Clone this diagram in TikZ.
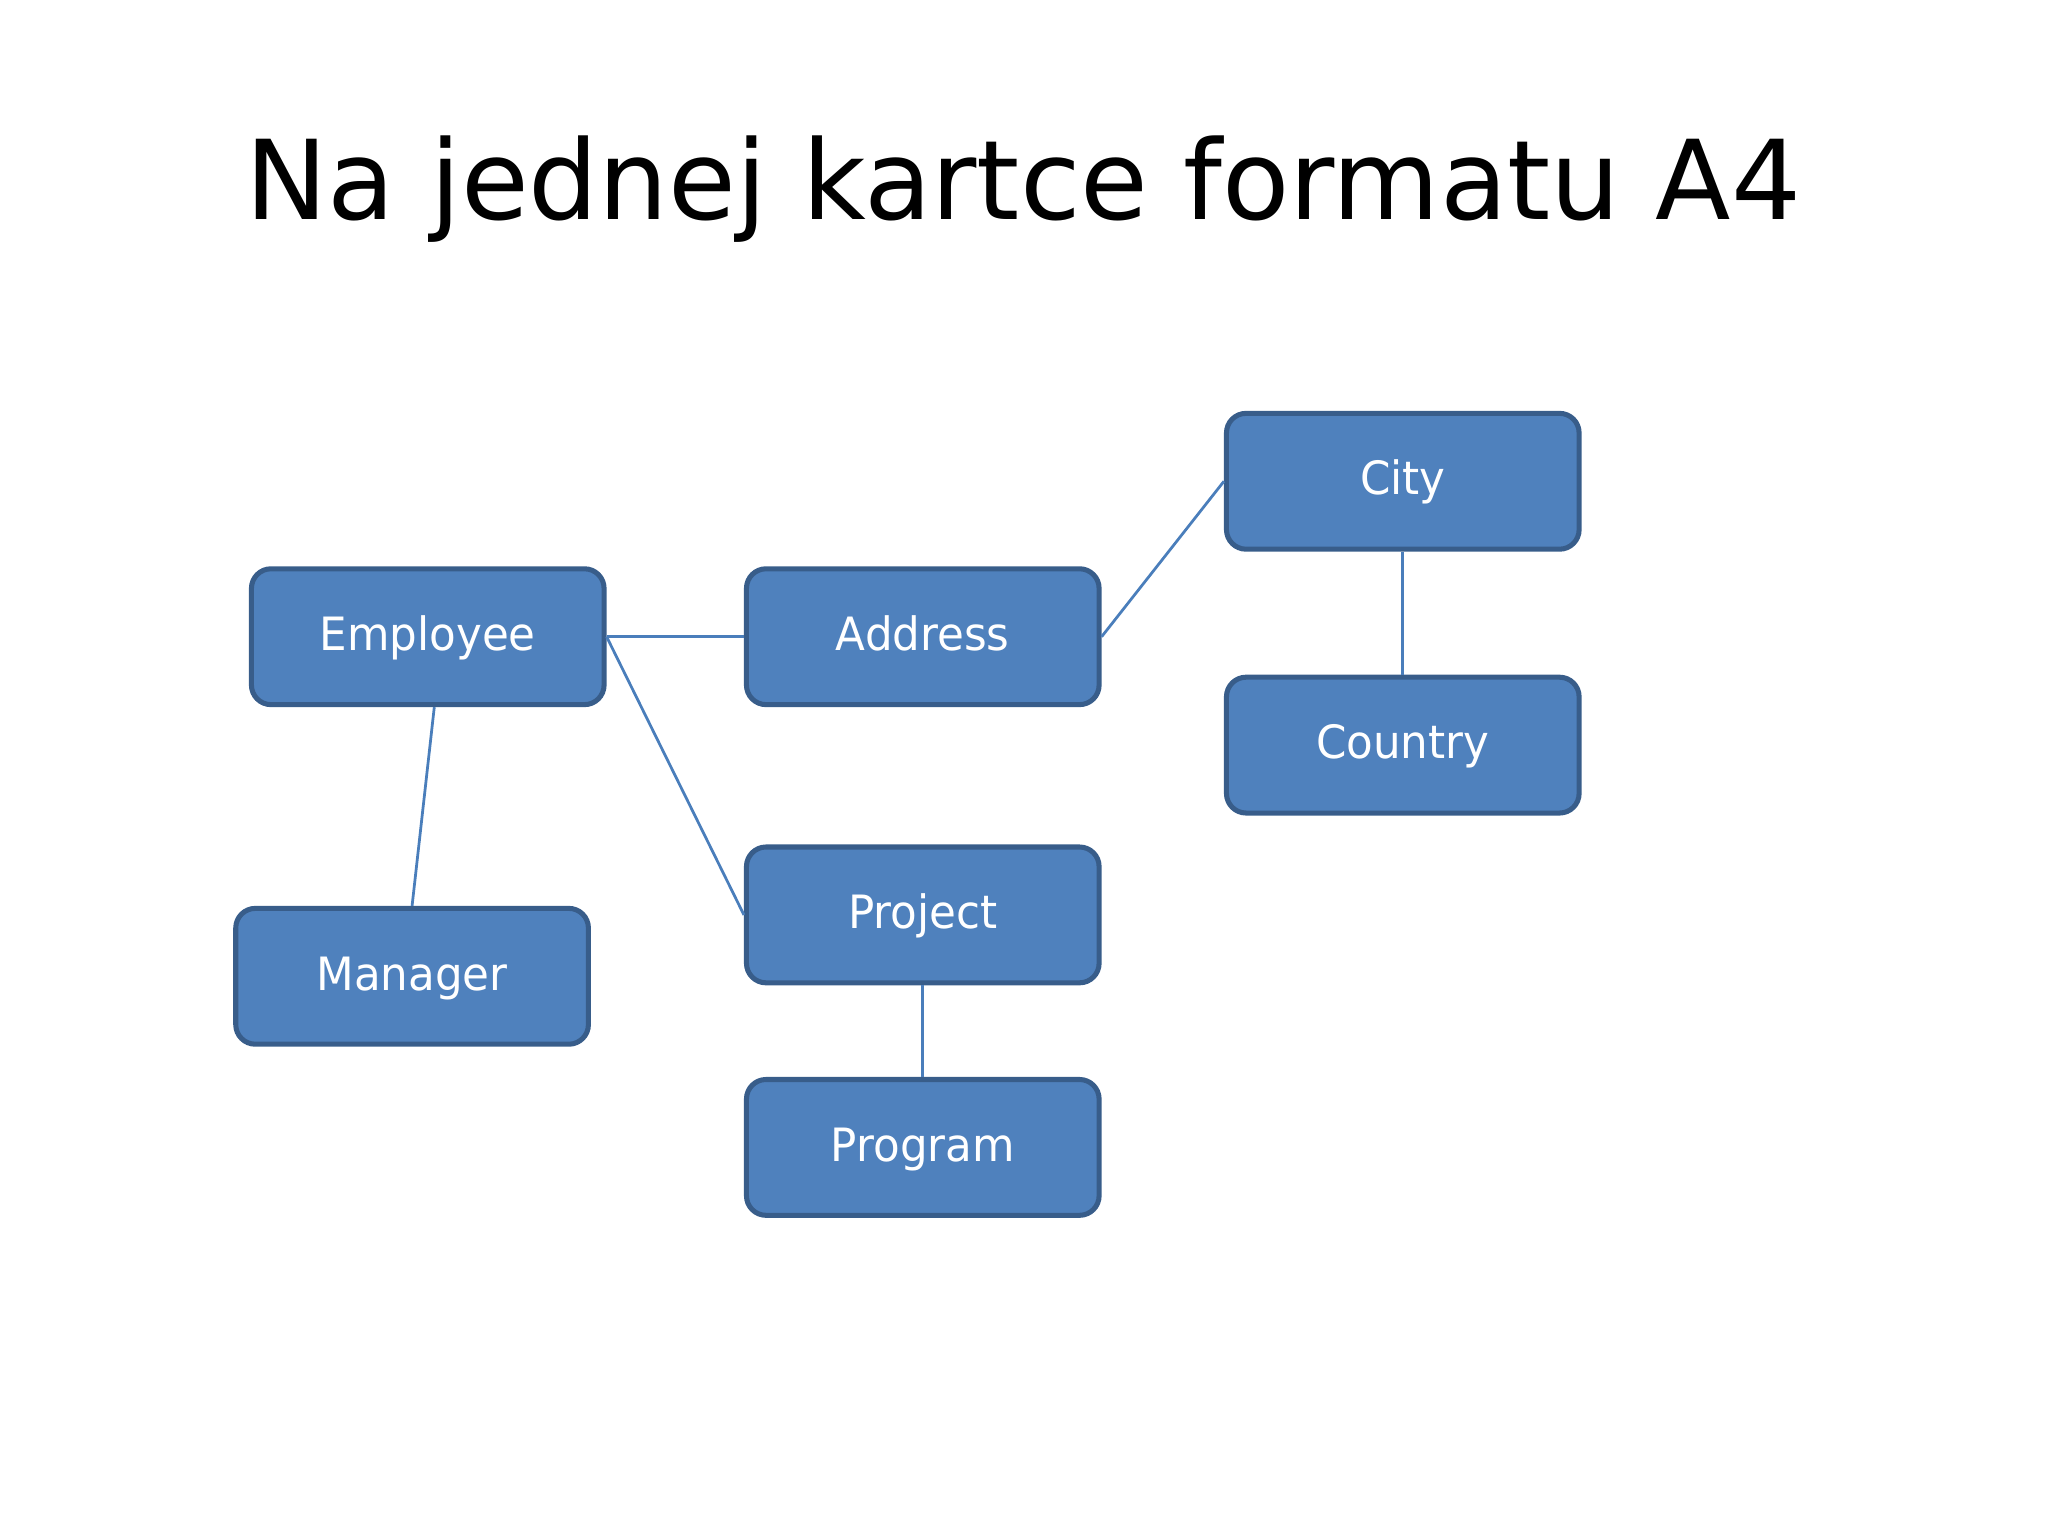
\documentclass[tikz,border=0pt]{standalone}
\usepackage{fontspec}
\setmainfont{DejaVu Sans}
\newfontfamily\labelfont[FakeStretch=0.95]{DejaVu Sans}
\definecolor{boxfill}{HTML}{4F81BD}
\definecolor{boxline}{HTML}{385D8A}
\definecolor{linkline}{HTML}{4A7EBB}
\begin{document}
\begin{tikzpicture}[
  entity/.style={draw=boxline, fill=boxfill, line width=1.1pt, rounded corners=0.15cm,
    minimum width=2.70cm, minimum height=1.04cm, inner sep=0pt, text=white,
    text height=0.30cm, text depth=0.09cm,
    font=\labelfont\fontsize{10}{12}\selectfont},
  link/.style={draw=linkline, line width=0.6pt}
]
\useasboundingbox (0,0) rectangle (15.68,11.76);
\node[anchor=base, font=\fontsize{24}{28}\selectfont] (title) at (7.835,10.08) {Na jednej kartce formatu A4};

\node[entity] (employee) at (3.275,6.885) {Employee};
\node[entity] (address) at (7.065,6.885) {Address};
\node[entity] (city) at (10.74,8.075) {City};
\node[entity] (country) at (10.74,6.055) {Country};
\node[entity] (manager) at (3.155,4.285) {Manager};
\node[entity] (project) at (7.065,4.755) {Project};
\node[entity] (program) at (7.065,2.975) {Program};

\path[link] (employee.east) -- (address.west);
\path[link] (employee.east) -- (project.west);
\path[link] ([xshift=0.05cm]employee.south) -- (manager.north);
\path[link] (address.east) -- (city.west);
\path[link] (city.south) -- (country.north);
\path[link] (project.south) -- (program.north);
\end{tikzpicture}
\end{document}
